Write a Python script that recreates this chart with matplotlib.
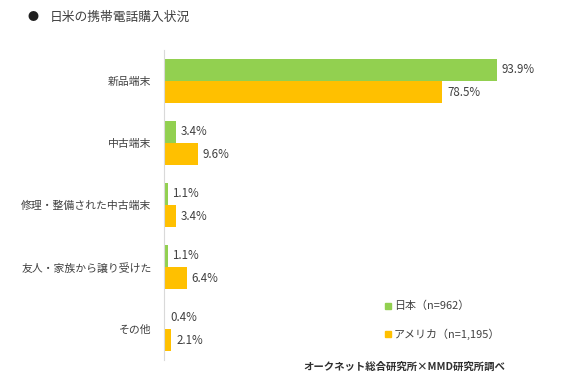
import numpy as np
import matplotlib
matplotlib.use('Agg')
import matplotlib.pyplot as plt

plt.rcParams['font.family'] = ['Noto Sans CJK JP', 'DejaVu Sans']

# data
categories = ['新品端末', '中古端末', '修理・整備された中古端末', '友人・家族から譲り受けた', 'その他']
japan = [93.9, 3.4, 1.1, 1.1, 0.4]
usa = [78.5, 9.6, 3.4, 6.4, 2.1]
labels_series = ['日本（n=962）', 'アメリカ（n=1,195）']

green = '#92D050'
orange = '#FFC000'
txt = '#404040'

fig = plt.figure(figsize=(5.82, 3.92), dpi=100)
ax = fig.add_axes([164/582, 32/392, 390/582, 310/392])

y = np.arange(len(categories))
h = 0.355
ax.barh(y - h/2, japan, height=h, color=green)
ax.barh(y + h/2, usa, height=h, color=orange)

for i in range(len(categories)):
    ax.text(japan[i] + 1.3, y[i] - h/2, f'{japan[i]:.1f}%', va='center', ha='left',
            fontsize=8.3, color=txt)
    ax.text(usa[i] + 1.3, y[i] + h/2, f'{usa[i]:.1f}%', va='center', ha='left',
            fontsize=8.3, color=txt)

ax.set_xlim(0, 110)
ax.set_ylim(4.5, -0.5)
ax.set_yticks(y)
ax.set_yticklabels(categories, fontsize=7.8, color=txt)
ax.tick_params(axis='y', length=0, pad=9)
ax.set_xticks([])
for s in ['top', 'right', 'bottom']:
    ax.spines[s].set_visible(False)
ax.spines['left'].set_color('#d9d9d9')

# title
fig.text(28/582, 1 - 17/392, '●', fontsize=8, color='#202020', va='center')
fig.text(50/582, 1 - 17/392, '日米の携帯電話購入状況', fontsize=9.2, color=txt, va='center')

# legend
for col, lab, yy in [(green, labels_series[0], 306), (orange, labels_series[1], 334)]:
    fig.patches.append(plt.Rectangle((385/582, 1 - (yy + 3)/392), 6/582, 6/392,
                                     transform=fig.transFigure, color=col))
    fig.text(394/582, 1 - yy/392, lab, fontsize=7.9, color=txt, va='center')

fig.text(303/582, 1 - 367/392, 'オークネット総合研究所×MMD研究所調べ', fontsize=7.5,
         color='#303030', va='center', fontweight='bold')

fig.savefig('out.png', dpi=100)
